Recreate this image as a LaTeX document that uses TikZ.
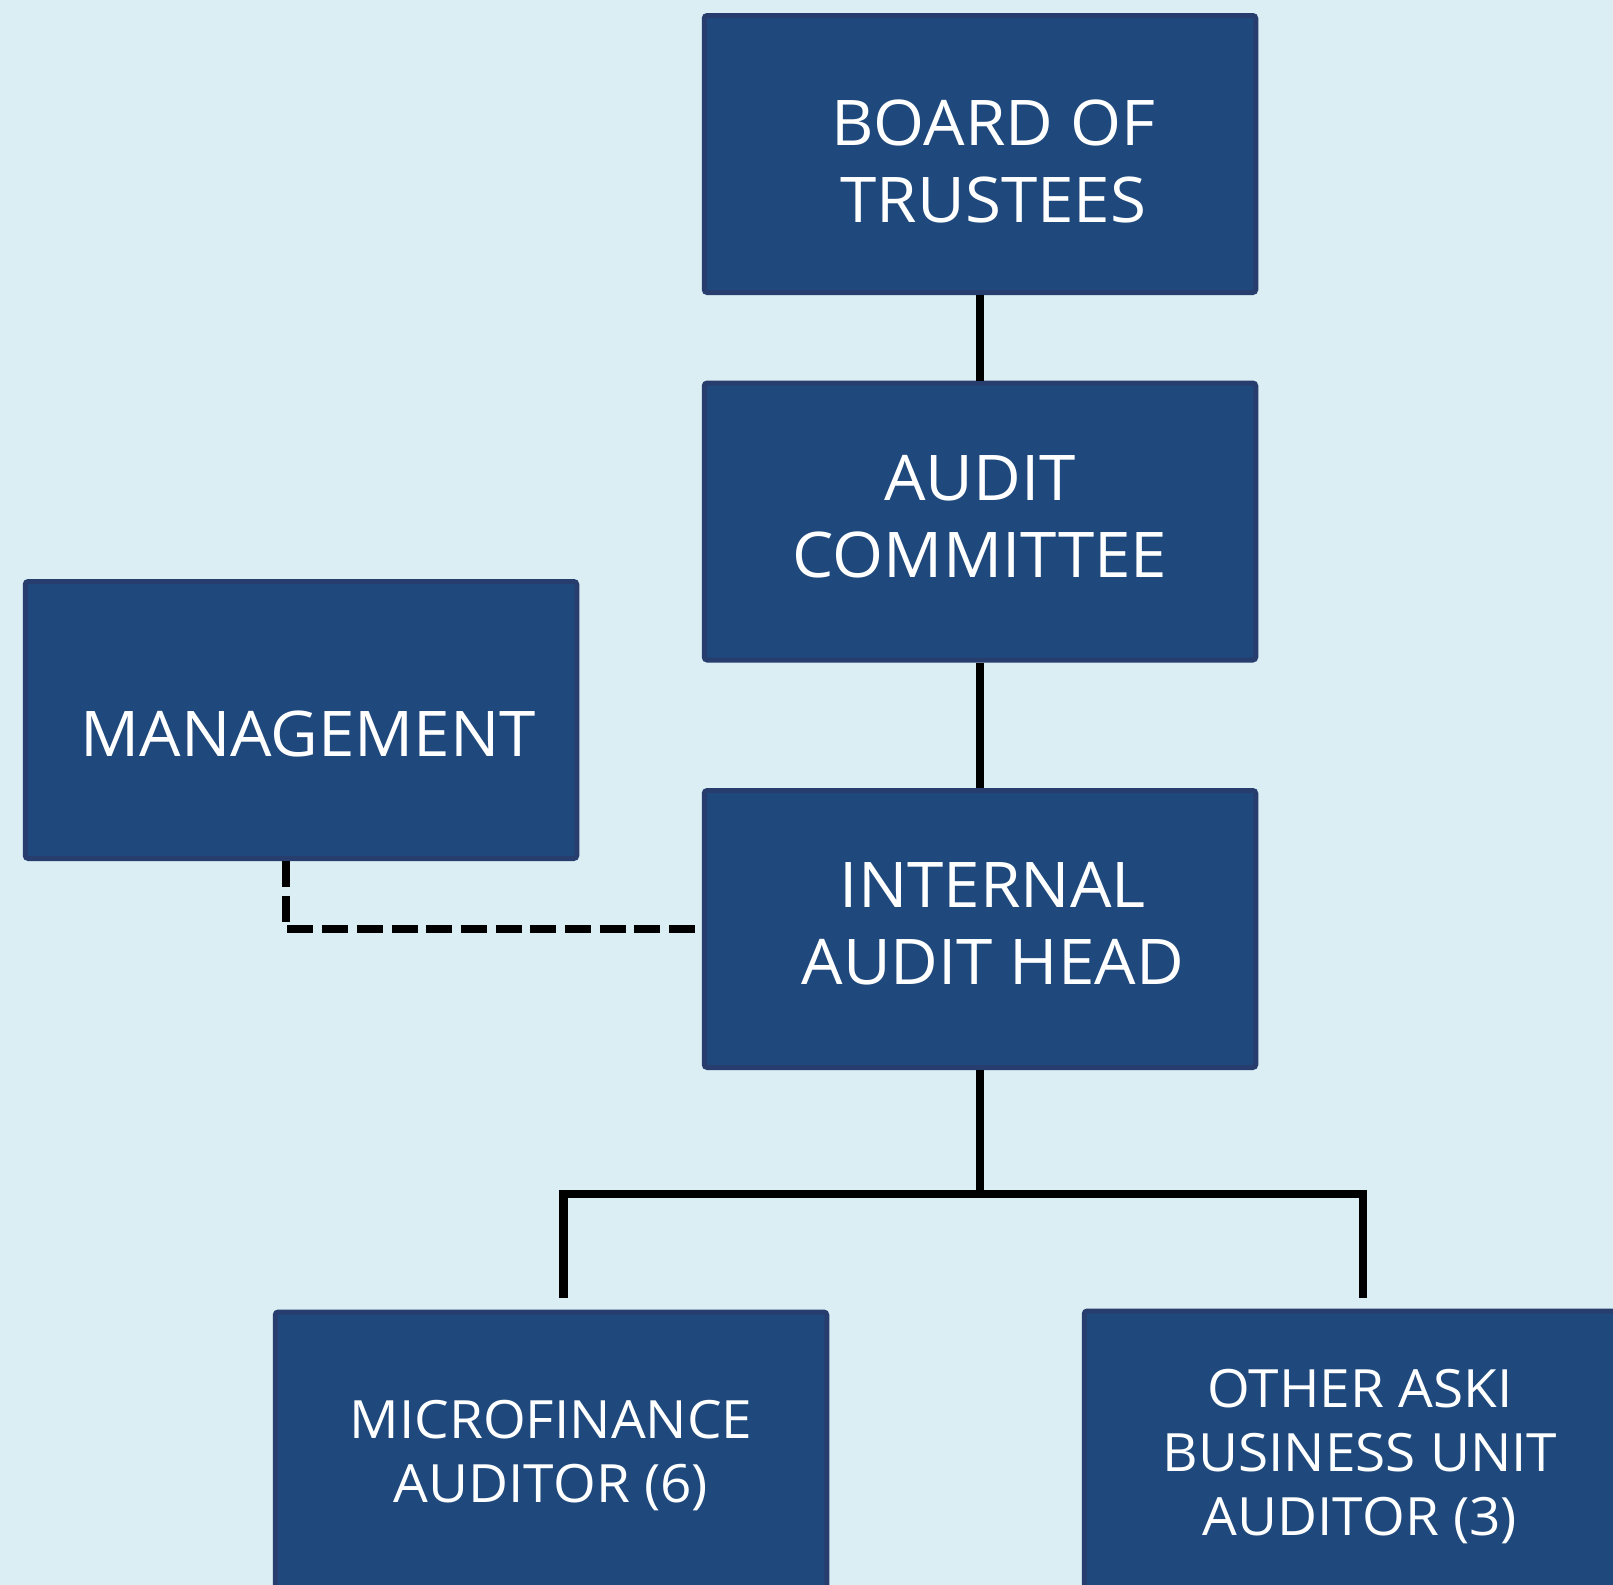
\documentclass[tikz,border=0pt]{standalone}
\usepackage{fontspec}
\setmainfont{Open Sans}[FakeStretch=1.04]
\usepackage{tikz}
\definecolor{paleblue}{RGB}{218,238,243}
\definecolor{navyfill}{RGB}{31,73,125}
\definecolor{navyedge}{RGB}{38,61,110}

\begin{document}
\begin{tikzpicture}[x=0.5pt,y=-0.5pt,
        orgbox/.style={draw=navyedge, fill=navyfill, line width=2.5pt, rounded corners=1.5pt,
            minimum width=275.75pt, minimum height=138.5pt, inner sep=0pt},
        boxtext/.style={text=white, align=center, inner sep=0pt, font=\fontsize{31.5}{38.5}\selectfont},
        smalltext/.style={boxtext, font=\fontsize{26.4}{32}\selectfont},
        solidlink/.style={line width=4.3pt},
        dashlink/.style={line width=4.2pt, dash pattern=on 13pt off 4.35pt}]
        \fill[paleblue] (0,0) rectangle (1613,1585);
        \useasboundingbox (0,0) rectangle (1613,1585);
        \clip (0,0) rectangle (1613,1585);
        % boxes
        \node[orgbox] (board) at (980,154) {};
        \node[orgbox] (committee) at (980,521.5) {};
        \node[orgbox] (head) at (980,929) {};
        \node[orgbox] (mgmt) at (301,720) {};
        \node[orgbox] (micro) at (551,1450.5) {};
        \node[orgbox] (other) at (1360,1449.5) {};
        % texts
        \node[boxtext] (boardtext) at ([xshift=6.7pt,yshift=-3.6pt]board.center) {BOARD OF\\TRUSTEES};
        \node[boxtext] (committeetext) at ([yshift=2.6pt]committee.center) {AUDIT\\COMMITTEE};
        \node[boxtext] (headtext) at ([xshift=6.4pt,yshift=2.6pt]head.center) {INTERNAL\\AUDIT HEAD};
        \node[boxtext] (mgmttext) at ([xshift=3.6pt,yshift=-6.9pt]mgmt.center) {MANAGEMENT};
        \node[smalltext] (microtext) at ([yshift=-2.6pt]micro.center) {MICROFINANCE\\AUDITOR (6)};
        \node[smalltext] (othertext) at ([yshift=-3.3pt]other.center) {OTHER ASKI\\BUSINESS UNIT\\AUDITOR (3)};
        % reporting lines
        \coordinate (busL) at (563.5,1194);
        \coordinate (busR) at (1363,1194);
        \coordinate (dropL) at (563.5,1298);
        \coordinate (dropR) at (1363,1298);
        \draw[solidlink] (board.south) -- (committee.north);
        \draw[solidlink] (committee.south) -- (head.north);
        \draw[solidlink] (head.south) -- (head.south |- busL);
        \draw[solidlink] (dropL) -- (busL) -- (busR) -- (dropR);
        \draw[dashlink] ([xshift=-7.5pt]mgmt.south) |- ([xshift=-3.5pt]head.west);
    \end{tikzpicture}
\end{document}
